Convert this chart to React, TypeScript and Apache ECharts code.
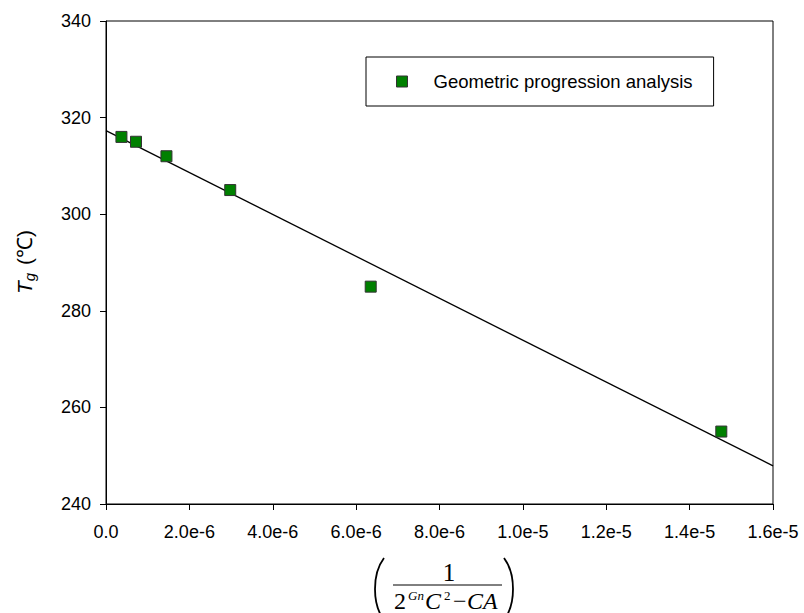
import React, { useEffect, useRef } from "react";
import * as echarts from "echarts";

const xValues = [3.7e-7, 7.2e-7, 1.45e-6, 2.98e-6, 6.35e-6, 1.476e-5];
const yValues = [316, 315, 312, 305, 285, 255];
const fitX = [0, 1.6e-5];
const fitY = [317.3, 247.9];
const seriesName = "Geometric progression analysis";
const xTicks = { min: 0, max: 1.6e-5, interval: 2e-6 };
const yTicks = { min: 240, max: 340, interval: 20 };

const FONT = "Liberation Sans, Arial, sans-serif";
const SERIF = "Liberation Serif, Times New Roman, serif";
const FS = 18;

export default function App() {
  const ref = useRef<HTMLDivElement>(null);
  useEffect(() => {
    const chart = echarts.init(ref.current!, null, { renderer: "svg" });
    const serif = (text: string, x: number, y: number, size: number, italic = false, align = "left") => ({
      type: "text",
      x,
      y,
      style: {
        text,
        fontSize: size,
        fontFamily: SERIF,
        fontStyle: italic ? "italic" : "normal",
        fill: "#000",
        textAlign: align,
        textVerticalAlign: "middle",
      },
    });
    const option: any = {
      animation: false,
      backgroundColor: "#fff",
      grid: {
        left: 106,
        top: 21,
        right: 31,
        bottom: 109,
        show: true,
        borderColor: "#000",
        borderWidth: 1,
        backgroundColor: "transparent",
      },
      legend: {
        data: [seriesName],
        left: 366,
        top: 57,
        orient: "horizontal",
        borderColor: "#000",
        borderWidth: 1,
        padding: [15, 21, 15, 30],
        itemWidth: 11,
        itemHeight: 11,
        icon: "rect",
        selectedMode: false,
        itemStyle: { color: "#008000", borderColor: "#333", borderWidth: 1, opacity: 1 },
        textStyle: { fontSize: 18.5, fontFamily: FONT, color: "#000", padding: [0, 0, 0, 21] },
      },
      xAxis: {
        type: "value",
        min: xTicks.min,
        max: xTicks.max,
        interval: xTicks.interval,
        splitLine: { show: false },
        axisLine: { show: true, onZero: false, lineStyle: { color: "#000", width: 1 } },
        axisTick: { show: true, inside: false, length: 6, lineStyle: { color: "#000" } },
        axisLabel: {
          fontSize: FS,
          fontFamily: FONT,
          color: "#000",
          margin: 19,
          formatter: (v: number) => (v === 0 ? "0.0" : v.toExponential(1)),
        },
      },
      yAxis: {
        type: "value",
        min: yTicks.min,
        max: yTicks.max,
        interval: yTicks.interval,
        splitLine: { show: false },
        axisLine: { show: true, onZero: false, lineStyle: { color: "#000", width: 1 } },
        axisTick: { show: true, inside: false, length: 6, lineStyle: { color: "#000" } },
        axisLabel: { fontSize: FS, fontFamily: FONT, color: "#000", margin: 15 },
      },
      series: [
        {
          name: "fit",
          type: "line",
          data: fitX.map((x, i) => [x, fitY[i]]),
          symbol: "none",
          lineStyle: { color: "#000", width: 1.3 },
          z: 2,
        },
        {
          name: seriesName,
          type: "scatter",
          data: xValues.map((x, i) => [x, yValues[i]]),
          symbol: "rect",
          symbolSize: 11,
          itemStyle: { color: "#008000", borderColor: "#333", borderWidth: 1, opacity: 1 },
          z: 3,
        },
      ],
      graphic: [
        {
          type: "text",
          x: 24,
          y: 262,
          rotation: Math.PI / 2,
          style: {
            text: "{t|T}{s|g}{n| (℃)}",
            textAlign: "center",
            textVerticalAlign: "middle",
            rich: {
              t: { fontSize: 21, fontStyle: "italic", fontFamily: FONT, fill: "#000", lineHeight: 26 },
              s: { fontSize: 15, fontStyle: "italic", fontFamily: FONT, fill: "#000", verticalAlign: "bottom", lineHeight: 26, padding: [10, 2, 0, 0] },
              n: { fontSize: 21, fontFamily: FONT, fill: "#000", lineHeight: 26 },
            },
          },
        },
        {
          type: "bezierCurve",
          shape: { x1: 384, y1: 558, cpx1: 372, cpy1: 574, cpx2: 372, cpy2: 604, x2: 384, y2: 620 },
          style: { stroke: "#000", lineWidth: 1.8, fill: "none" },
        },
        {
          type: "bezierCurve",
          shape: { x1: 504, y1: 558, cpx1: 516, cpy1: 574, cpx2: 516, cpy2: 604, x2: 504, y2: 620 },
          style: { stroke: "#000", lineWidth: 1.8, fill: "none" },
        },
        serif("1", 449, 572, 25, false, "center"),
        {
          type: "line",
          shape: { x1: 393, y1: 585, x2: 502, y2: 585 },
          style: { stroke: "#000", lineWidth: 1 },
        },
        serif("2", 394, 601, 24),
        serif("Gn", 408, 595, 13, true),
        serif("C", 425, 601, 24, true),
        serif("2", 444, 595, 13),
        serif("−", 453, 601, 24),
        serif("CA", 467, 601, 24, true),
      ],
    };
    chart.setOption(option);
    return () => chart.dispose();
  }, []);
  return <div ref={ref} style={{ position: "absolute", left: 0, top: 0, width: 804, height: 613 }} />;
}
